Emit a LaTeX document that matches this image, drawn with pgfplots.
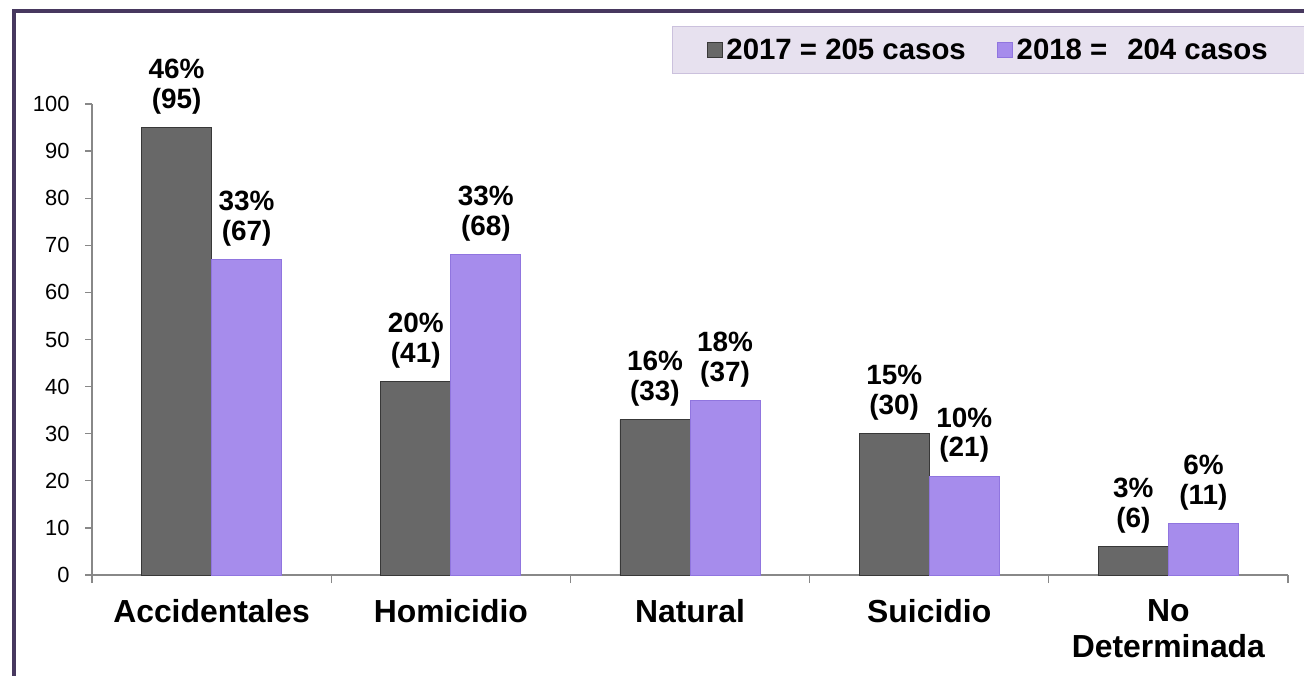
\documentclass[border=0pt]{standalone}
\usepackage{fontspec}
\setmainfont{Liberation Sans}
\usepackage{pgfplots}
\pgfplotsset{compat=1.18}
\definecolor{axisgray}{HTML}{888888}
\definecolor{framecol}{HTML}{47385F}
\definecolor{legfill}{HTML}{E7E1EF}
\definecolor{legdraw}{HTML}{CBC1DD}
\definecolor{dkfill}{HTML}{686868}
\definecolor{dkdraw}{HTML}{383838}
\definecolor{pufill}{HTML}{A68CEC}
\definecolor{pudraw}{HTML}{9075DF}
\begin{document}
\begin{tikzpicture}
\useasboundingbox (0,0) rectangle (1304bp,676bp);
\begin{axis}[
  at={(92bp,101bp)}, anchor=south west,
  scale only axis, width=1196bp, height=471bp,
  xmin=-0.5, xmax=4.5, ymin=0, ymax=100,
  enlargelimits=false, clip=false,
  axis x line*=bottom, axis y line*=left,
  axis line style={draw=axisgray, line width=1.3bp},
  ybar=0pt, bar width=0.293,
  xtick={0,1,2,3,4},
  xticklabels={Accidentales,Homicidio,Natural,Suicidio,{No\\Determinada}},
  minor xtick={-0.5,0.5,1.5,2.5,3.5,4.5},
  ytick={0,10,...,100},
  tick align=outside, major tick length=7bp, minor tick length=8bp,
  every tick/.style={draw=axisgray, line width=1.3bp},
  major x tick style={draw=none},
  x tick label style={font=\fontsize{32}{36.5}\selectfont\bfseries, align=center, text=black, yshift=-14bp},
  y tick label style={font=\fontsize{22}{26}\selectfont, text=black, xshift=-12bp},
  /pgf/number format/assume math mode=true,
  point meta=explicit symbolic,
  nodes near coords,
  every node near coord/.append style={font=\fontsize{28}{30}\selectfont\bfseries, align=center, inner sep=0pt, yshift=13bp, text=black},
  legend columns=2,
  legend cell align=left,
  legend style={at={(axis description cs:0.48495,1.16561)}, anchor=north west,
    draw=legdraw, fill=legfill, line width=1.3bp,
    inner xsep=34bp, inner ysep=9.25bp,
    font=\fontsize{29.5}{32}\selectfont\bfseries,
    nodes={inner xsep=4bp, inner ysep=3bp},
    /tikz/every even column/.append style={column sep=27bp}},
  legend image code/.code={\path[#1] (0bp,-7.5bp) rectangle (15bp,7.5bp);},
]
\addplot[ybar, draw=dkdraw, fill=dkfill, line width=0.8bp]
  coordinates {(0,95) [{46\%\\(95)}] (1,41) [{20\%\\(41)}] (2,33) [{16\%\\(33)}] (3,30) [{15\%\\(30)}] (4,6) [{3\%\\(6)}]};
\addlegendentry{2017 = 205 casos}
\addplot[ybar, draw=pudraw, fill=pufill, line width=0.8bp]
  coordinates {(0,67) [{33\%\\(67)}] (1,68) [{33\%\\(68)}] (2,37) [{18\%\\(37)}] (3,21) [{10\%\\(21)}] (4,11) [{6\%\\(11)}]};
\addlegendentry{2018 = \hspace{0.4em}204 casos\rule{80bp}{0pt}}
\end{axis}
\draw[line width=4bp, framecol] (14bp,-10bp) -- (14bp,665bp) -- (1320bp,665bp);
\end{tikzpicture}
\end{document}
